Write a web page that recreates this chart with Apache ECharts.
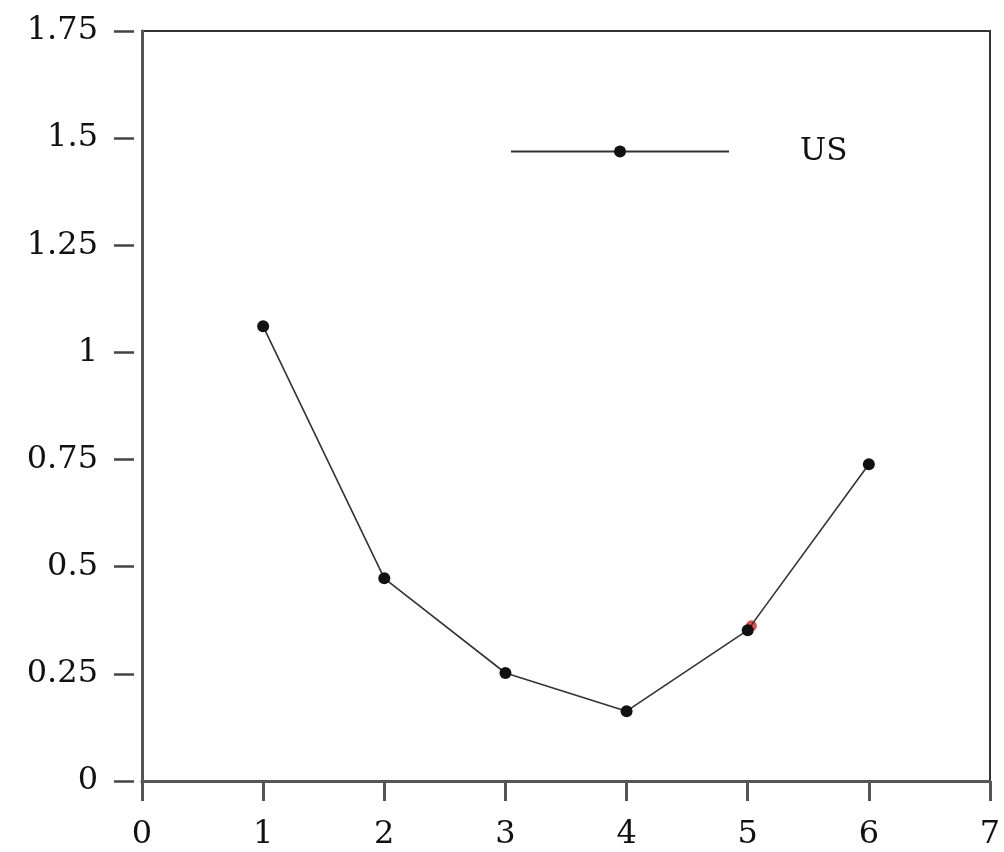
<!DOCTYPE html>
<html>
<head>
<meta charset="utf-8">
<script src="https://cdn.jsdelivr.net/npm/echarts@6/dist/echarts.min.js"></script>
<style>html,body{margin:0;padding:0;background:#fff}#c{width:1004px;height:852px}</style>
</head>
<body>
<div id="c"></div>
<script>
const xValues = [1, 2, 3, 4, 5, 6];
const usValues = [1.061, 0.473, 0.252, 0.163, 0.352, 0.739];
const redMark = [[5.03, 0.362]];
const seriesName = 'US';

const font = 'DejaVu Serif';
const chart = echarts.init(document.getElementById('c'));
chart.setOption({
  animation: false,
  backgroundColor: '#fff',
  grid: { left: 142, right: 14, top: 31, bottom: 71, show: true, borderColor: '#333', borderWidth: 2 },
  legend: {
    data: [{ name: seriesName, itemStyle: { color: '#111' } }],
    left: 505, top: 131,
    itemWidth: 218, itemHeight: 15,
    textStyle: { fontFamily: font, fontSize: 31, color: '#111', padding: [0, 0, 0, 66] }
  },
  xAxis: {
    type: 'value', min: 0, max: 7, interval: 1,
    splitLine: { show: false },
    axisLine: { show: true, lineStyle: { color: '#555', width: 3 } },
    axisTick: { show: true, length: 20, lineStyle: { color: '#555', width: 3 } },
    axisLabel: { margin: 38, fontFamily: font, fontSize: 32, color: '#111' }
  },
  yAxis: [
    {
      type: 'value', min: 0, max: 1.75, interval: 0.25,
      splitLine: { show: false },
      axisLine: { show: true, lineStyle: { color: '#555', width: 3 } },
      axisTick: { show: false },
      axisLabel: { show: false }
    },
    {
      type: 'value', min: 0, max: 1.75, interval: 0.25, position: 'left', offset: 8,
      splitLine: { show: false },
      axisLine: { show: false },
      axisTick: { show: true, length: 20, lineStyle: { color: '#444', width: 2.5 } },
      axisLabel: { margin: 36, fontFamily: font, fontSize: 32, color: '#111' }
    }
  ],
  series: [
    {
      name: seriesName, type: 'line',
      data: xValues.map((x, i) => [x, usValues[i]]),
      symbol: 'circle', symbolSize: 12,
      itemStyle: { color: '#111' },
      lineStyle: { color: '#333', width: 1.6 }
    },
    {
      name: 'mark', type: 'scatter', data: redMark, z: 1,
      symbol: 'circle', symbolSize: 11,
      itemStyle: { color: '#d22' }
    }
  ]
});
</script>
</body>
</html>
